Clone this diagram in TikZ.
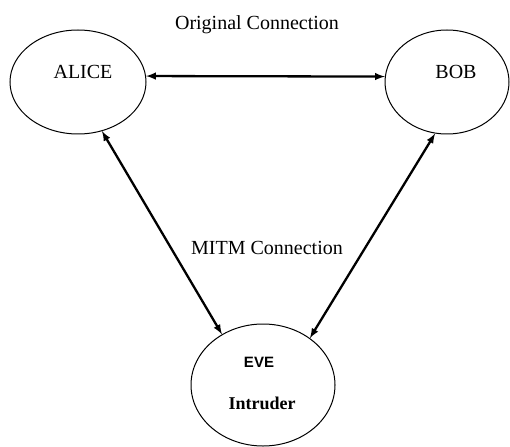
\documentclass[tikz,border=0pt]{standalone}
\usepackage{fontspec}
\setmainfont{Liberation Serif}
\setsansfont{Liberation Sans}
\usetikzlibrary{shapes.geometric}

\begin{document}
\begin{tikzpicture}[x=1pt,y=-1pt,
    party/.style={draw, ellipse, line width=1pt, inner sep=0pt},
    link/.style={latex-latex, line width=2.3pt},
    txt/.style={font=\fontsize{20}{22}\selectfont}]
  \useasboundingbox (0,0) rectangle (510,446);
  % the three parties
  \node[party, minimum width=136pt, minimum height=104pt] (alice) at (78,82) {};
  \node[party, minimum width=124pt, minimum height=104pt] (bob) at (447,82) {};
  \node[party, minimum width=144pt, minimum height=122pt] (eve) at (263,385) {};
  \node[txt] (alicetxt) at (83,72) {ALICE};
  \node[txt] (bobtxt) at (456,72) {BOB};
  \node[font=\sffamily\bfseries\fontsize{15}{17}\selectfont] (evetxt) at (259,362) {EVE};
  \node[font=\bfseries\fontsize{18}{20}\selectfont] (intruder) at (262,403) {Intruder};
  % connections
  \draw[link] (alice.5) -- (bob.175);
  \draw[link] (alice.296) -- (eve.129);
  \draw[link] (bob.257) -- (eve.45);
  \node[txt] (orig) at (257,25) {Original Connection};
  \node[txt] (mitm) at (267,248) {MITM Connection};
\end{tikzpicture}
\end{document}
